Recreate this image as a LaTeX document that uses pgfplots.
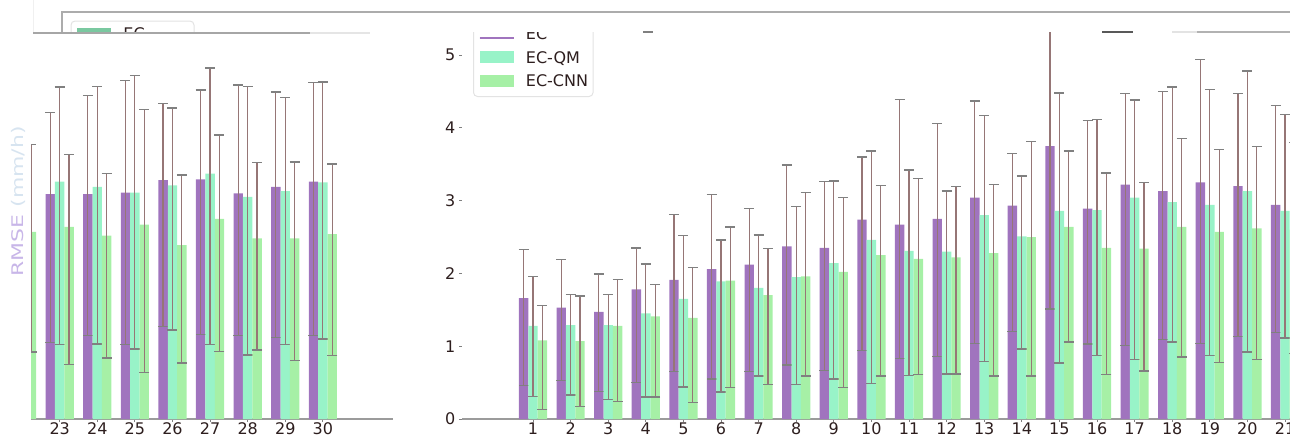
\documentclass[border=0pt]{standalone}
\usepackage{fontspec}
\setmainfont{DejaVu Sans}
\usepackage{pgfplots}
\usepackage{pgfplotstable}
\pgfplotsset{compat=1.18}
\definecolor{ecpurple}{RGB}{160,116,190}
\definecolor{ecmint}{RGB}{152,243,200}
\definecolor{eccnn}{RGB}{166,240,166}
\definecolor{errc}{RGB}{150,118,118}
\definecolor{capc}{RGB}{128,128,128}
\definecolor{axc}{RGB}{155,155,155}
\definecolor{txc}{RGB}{45,30,30}
\definecolor{legteal}{RGB}{122,200,160}
\definecolor{ylabc}{RGB}{200,182,232}
\definecolor{ylabc2}{RGB}{215,228,240}

\pgfplotstableread{
x  ev   et   eb   qv   qt   qb   cv   ct   cb
1  1.66 2.33 0.46 1.28 1.96 0.31 1.08 1.56 0.13
2  1.53 2.19 0.53 1.29 1.71 0.33 1.07 1.69 0.17
3  1.47 1.99 0.38 1.29 1.71 0.27 1.28 1.92 0.24
4  1.78 2.35 0.50 1.45 2.13 0.30 1.41 1.85 0.30
5  1.91 2.81 0.65 1.65 2.52 0.44 1.39 2.08 0.23
6  2.06 3.08 0.55 1.89 2.46 0.37 1.90 2.64 0.43
7  2.12 2.89 0.65 1.80 2.53 0.59 1.70 2.34 0.47
8  2.37 3.49 0.74 1.95 2.92 0.47 1.96 3.11 0.59
9  2.35 3.26 0.67 2.14 3.27 0.55 2.02 3.04 0.43
10 2.74 3.60 0.94 2.46 3.68 0.49 2.25 3.21 0.59
11 2.67 4.39 0.83 2.31 3.42 0.60 2.20 3.30 0.61
12 2.75 4.06 0.86 2.30 3.13 0.62 2.22 3.19 0.62
13 3.04 4.37 1.04 2.80 4.17 0.79 2.28 3.22 0.59
14 2.93 3.65 1.20 2.51 3.34 0.96 2.50 3.81 0.59
15 3.75 5.60 1.51 2.86 4.48 0.77 2.64 3.68 1.06
16 2.89 4.10 1.03 2.87 4.11 0.87 2.35 3.38 0.61
17 3.22 4.47 1.01 3.04 4.38 0.82 2.34 3.25 0.66
18 3.13 4.50 1.09 2.98 4.56 1.06 2.64 3.85 0.85
19 3.25 4.94 1.04 2.94 4.53 0.87 2.57 3.70 0.78
20 3.20 4.47 1.13 3.13 4.78 0.92 2.62 3.74 0.82
21 2.94 4.31 1.19 2.86 4.18 1.11 2.60 3.80 0.90
22 3.00 4.30 1.10 3.10 4.40 1.00 2.57 3.77 0.92
23 3.09 4.21 1.05 3.26 4.56 1.02 2.64 3.63 0.75
24 3.09 4.44 1.15 3.19 4.57 1.03 2.52 3.37 0.84
25 3.11 4.65 1.02 3.11 4.72 0.96 2.67 4.25 0.64
26 3.28 4.33 1.27 3.21 4.27 1.22 2.39 3.35 0.77
27 3.29 4.52 1.16 3.37 4.82 1.02 2.75 3.90 0.93
28 3.10 4.59 1.15 3.05 4.57 0.88 2.48 3.52 0.95
29 3.19 4.49 1.12 3.13 4.42 1.02 2.48 3.53 0.80
30 3.26 4.62 1.15 3.25 4.63 1.10 2.54 3.50 0.87
}\datatable

\pgfplotsset{
  common/.style={
    scale only axis, ymin=0, ybar=0pt, bar width=0.25, clip=true,
    axis x line*=bottom, axis y line*=left,
    x axis line style={draw=axc, line width=0.75pt, -},
    y axis line style={draw=none, -},
    tick align=outside, major tick length=1.5pt,
    every tick/.append style={draw=capc, line width=0.5pt},
    tick label style={font=\fontsize{8}{9.6}\selectfont, text=txc},
    xticklabel style={inner sep=0pt, text height=5.8pt, text depth=0pt, anchor=north, yshift=-0.4pt},
    yticklabel style={inner sep=0pt, anchor=east, xshift=-1.6pt},
    /pgf/number format/assume math mode=true,
  },
  ebar/.style={error bars/.cd, y dir=both, y explicit,
    error bar style={line width=0.6pt, draw=errc},
    error mark options={rotate=90, line width=0.7pt, draw=capc, mark size=2.5pt},
    /pgfplots/.cd},
}

\begin{document}
\begin{tikzpicture}
\useasboundingbox (0pt,0pt) rectangle (645pt,218pt);

% left panel (categories 22-30)
\begin{axis}[common,
  at={(15.5pt,8.5pt)}, anchor=south west,
  width=181pt, height=193pt,
  xmin=22.237, xmax=31.865, ymax=5.302,
  xtick={23,...,30}, ytick=\empty]
\addplot[fill=ecpurple, draw=none, bar shift=-0.25, ebar]
  table[x=x, y=ev, y error plus expr=\thisrow{et}-\thisrow{ev}, y error minus expr=\thisrow{ev}-\thisrow{eb}] {\datatable};
\addplot[fill=ecmint, draw=none, bar shift=0, ebar]
  table[x=x, y=qv, y error plus expr=\thisrow{qt}-\thisrow{qv}, y error minus expr=\thisrow{qv}-\thisrow{qb}] {\datatable};
\addplot[fill=eccnn, draw=none, bar shift=0.25, ebar]
  table[x=x, y=cv, y error plus expr=\thisrow{ct}-\thisrow{cv}, y error minus expr=\thisrow{cv}-\thisrow{cb}] {\datatable};
\end{axis}

% right panel (categories 1-21)
\begin{axis}[common,
  at={(231pt,8.5pt)}, anchor=south west,
  width=414pt, height=193.25pt,
  xmin=-0.889, xmax=21.133, ymax=5.309,
  xtick={1,...,21}, ytick={0,1,2,3,4,5},
  legend cell align=left,
  legend style={at={(0.01329,0.8331)}, anchor=south west,
    draw=gray!22, line width=0.5pt, rounded corners=2pt, fill=white,
    inner xsep=2.5pt, inner ysep=4.85pt, row sep=5.85pt, column sep=5.7pt,
    font=\fontsize{8}{9.6}\selectfont, text=txc,
    nodes={inner sep=0pt, text height=6pt, text depth=0pt}}]
\addplot[fill=ecpurple, draw=none, bar shift=-0.25,
  legend image code/.code={\draw[ecpurple, line width=1pt, sharp corners] (0pt,-2.5pt) -- (17pt,-2.5pt);}, ebar]
  table[x=x, y=ev, y error plus expr=\thisrow{et}-\thisrow{ev}, y error minus expr=\thisrow{ev}-\thisrow{eb}] {\datatable};
\addlegendentry{EC}
\addplot[fill=ecmint, draw=none, bar shift=0,
  legend image code/.code={\fill[ecmint, sharp corners] (0pt,-3pt) rectangle (17pt,3pt);}, ebar]
  table[x=x, y=qv, y error plus expr=\thisrow{qt}-\thisrow{qv}, y error minus expr=\thisrow{qv}-\thisrow{qb}] {\datatable};
\addlegendentry{EC-QM}
\addplot[fill=eccnn, draw=none, bar shift=0.25,
  legend image code/.code={\fill[eccnn, sharp corners] (0pt,-3pt) rectangle (17pt,3pt);}, ebar]
  table[x=x, y=cv, y error plus expr=\thisrow{ct}-\thisrow{cv}, y error minus expr=\thisrow{cv}-\thisrow{cb}] {\datatable};
\addlegendentry{EC-CNN}
\end{axis}

% y label of the left panel
\node[rotate=90, anchor=base west, inner sep=0pt, font=\fontsize{8}{9.6}\selectfont]
  at (11.65pt,79.65pt) {\scalebox{1.37}[1]{\textcolor{ylabc}{RMSE} \textcolor{ylabc2}{(mm/h)}}};

% mask above the right panel
\fill[white] (232.5pt,202pt) rectangle (300pt,218pt);

% fragment of a second legend at top left
\begin{scope}
\clip (0pt,201.5pt) rectangle (200pt,218pt);
\draw[gray!22, line width=0.5pt, rounded corners=2pt, fill=white] (35.5pt,207.5pt) rectangle (97pt,180pt);
\fill[legteal] (38.5pt,204pt) rectangle (55.5pt,190pt);
\node[anchor=base west, inner sep=0pt, font=\fontsize{8}{9.6}\selectfont, text=txc] at (61.5pt,198.3pt) {EC};
\end{scope}

% frame lines
\draw[gray!12, line width=0.5pt] (16.5pt,218pt) -- (16.5pt,201.5pt);
\draw[gray!65, line width=0.75pt] (31pt,212pt) -- (645pt,212pt);
\draw[gray!65, line width=0.75pt] (31pt,212.3pt) -- (31pt,201.5pt);
\draw[gray!70, line width=0.75pt] (16.5pt,201.5pt) -- (155pt,201.5pt);
\draw[gray!20, line width=0.6pt] (155pt,201.5pt) -- (185pt,201.5pt);
\draw[black!65, line width=0.75pt] (551pt,202pt) -- (566.5pt,202pt);
\draw[gray!22, line width=0.75pt] (586pt,202pt) -- (598.5pt,202pt);
\draw[gray!60, line width=0.75pt] (598.5pt,202pt) -- (645pt,202pt);
\draw[capc, line width=0.6pt] (321.5pt,202pt) -- (326.5pt,202pt);
\end{tikzpicture}
\end{document}
